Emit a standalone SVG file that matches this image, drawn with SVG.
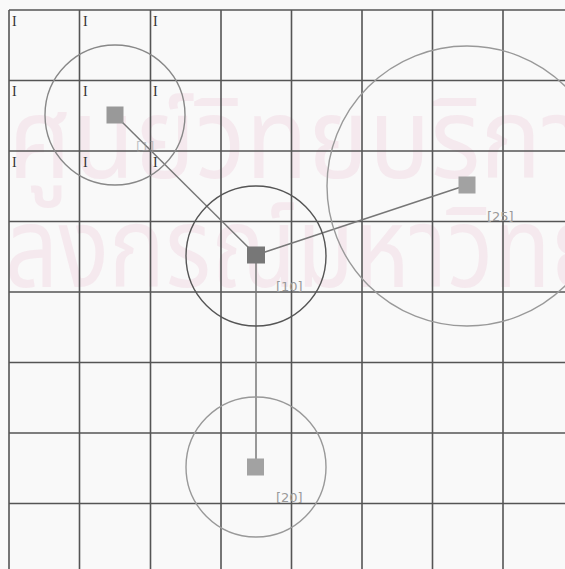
<svg xmlns="http://www.w3.org/2000/svg" width="565" height="569" viewBox="0 0 565 569">
<style>
.wm{font-family:"Noto Sans Thai","Noto Sans","DejaVu Sans",sans-serif;fill:#f5e9ee;font-size:112px}
.grid line{stroke:#555;stroke-width:1.6}
.cell{font-family:"Liberation Serif",serif;font-size:14px;fill:#333}
.ring{fill:none;stroke-width:1.4}
.sq{stroke:none}
.lbl{font-family:"DejaVu Sans",sans-serif;font-size:13px;fill:#999}
.conn line{stroke:#777;stroke-width:1.5}
</style>
<rect width="565" height="569" fill="#f9f9f9"/>
<g id="watermark">
<text class="wm" x="8" y="178" textLength="625" lengthAdjust="spacingAndGlyphs">ศูนย์วิทยบริการ</text>
<text class="wm" x="-146" y="287" textLength="900" lengthAdjust="spacingAndGlyphs">จุฬาลงกรณ์มหาวิทยาลัย</text>
</g>
<g class="grid" id="grid">
<line x1="9" y1="10" x2="565" y2="10"/>
<line x1="9" y1="80.5" x2="565" y2="80.5"/>
<line x1="9" y1="151" x2="565" y2="151"/>
<line x1="9" y1="221.5" x2="565" y2="221.5"/>
<line x1="9" y1="292" x2="565" y2="292"/>
<line x1="9" y1="362.5" x2="565" y2="362.5"/>
<line x1="9" y1="433" x2="565" y2="433"/>
<line x1="9" y1="503.5" x2="565" y2="503.5"/>
<line x1="9" y1="10" x2="9" y2="569"/>
<line x1="79.5" y1="10" x2="79.5" y2="569"/>
<line x1="150.5" y1="10" x2="150.5" y2="569"/>
<line x1="221" y1="10" x2="221" y2="569"/>
<line x1="291.5" y1="10" x2="291.5" y2="569"/>
<line x1="362" y1="10" x2="362" y2="569"/>
<line x1="432.5" y1="10" x2="432.5" y2="569"/>
<line x1="503" y1="10" x2="503" y2="569"/>
</g>
<g id="cell-marks">
<text class="cell" x="12" y="26">I</text>
<text class="cell" x="83" y="26">I</text>
<text class="cell" x="153" y="26">I</text>
<text class="cell" x="12" y="96">I</text>
<text class="cell" x="83" y="96">I</text>
<text class="cell" x="153" y="96">I</text>
<text class="cell" x="12" y="167">I</text>
<text class="cell" x="83" y="167">I</text>
<text class="cell" x="153" y="167">I</text>
</g>
<g class="conn" id="connectors">
<line x1="115" y1="115" x2="256" y2="255"/>
<line x1="256" y1="255" x2="467" y2="185"/>
<line x1="256" y1="255" x2="256" y2="467"/>
</g>
<g id="node-1">
<circle class="ring" cx="115" cy="115" r="70" stroke="#888"/>
<rect class="sq" x="106.5" y="106.5" width="17" height="17" fill="#999"/>
<text class="lbl" x="136" y="151" fill-opacity="0.6">[1]</text>
</g>
<g id="node-10">
<circle class="ring" cx="256" cy="256" r="70" stroke="#555"/>
<rect class="sq" x="247" y="246.5" width="18" height="17" fill="#777"/>
<text class="lbl" x="276" y="291">[10]</text>
</g>
<g id="node-25">
<circle class="ring" cx="467" cy="186" r="140" stroke="#999"/>
<rect class="sq" x="458.5" y="176.5" width="17" height="17" fill="#a2a2a2"/>
<text class="lbl" x="487" y="221" fill="#bbb">[25]</text>
</g>
<g id="node-20">
<circle class="ring" cx="256" cy="467" r="70" stroke="#999"/>
<rect class="sq" x="247" y="458.5" width="17" height="17" fill="#a2a2a2"/>
<text class="lbl" x="276" y="502" fill="#bbb">[20]</text>
</g>
</svg>
